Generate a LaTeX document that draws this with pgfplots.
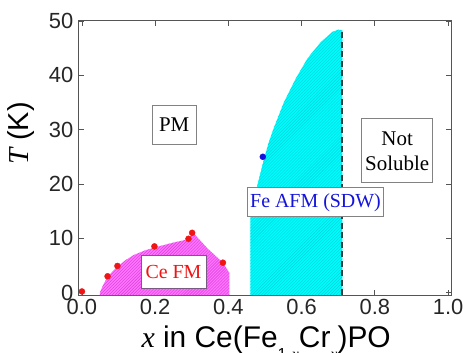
\documentclass[border=0pt]{standalone}
\usepackage{fontspec}
\setmainfont{Liberation Serif}
\setsansfont{Liberation Sans}
\usepackage{pgfplots}
\pgfplotsset{compat=1.18}
\usetikzlibrary{patterns}
\definecolor{magfill}{RGB}{255,115,255}
\definecolor{magline}{RGB}{215,60,215}
\definecolor{cyfill}{RGB}{0,252,252}
\definecolor{cyline}{RGB}{0,210,220}
\definecolor{frame}{RGB}{85,85,85}
\definecolor{boxgray}{RGB}{130,130,130}
\definecolor{boxpurple}{RGB}{120,90,130}
\definecolor{ptred}{RGB}{240,20,20}
\definecolor{ptblue}{RGB}{20,20,220}
\begin{document}
\begin{tikzpicture}
\begin{axis}[
  scale only axis,
  width=372bp, height=274bp,
  xmin=-0.008, xmax=1.008,
  ymin=-0.45, ymax=50,
  xtick={0,0.2,0.4,0.6,0.8,1.0},
  ytick={0,10,20,30,40,50},
  tick align=inside,
  tick pos=both,
  xticklabel pos=lower, yticklabel pos=left,
  major tick length=5bp,
  axis line style={frame, line width=1bp},
  every tick/.style={frame, line width=0.8bp},
  /pgf/number format/assume math mode=true,
  tick label style={font=\sffamily\fontsize{22}{22}\selectfont, text=black!85},
  xticklabel style={/pgf/number format/.cd, fixed, fixed zerofill, precision=1, /tikz/.cd, inner ysep=3.5bp},
  yticklabel style={inner xsep=5.5bp},
  every axis x label/.style={at={(axis description cs:0.1586,0)}, anchor=base west, yshift=-52.7bp, font=\sffamily\fontsize{30}{30}\selectfont},
  every axis y label/.style={at={(axis description cs:0,0.589)}, xshift=-58bp, rotate=90, anchor=center, font=\sffamily\fontsize{29}{29}\selectfont},
  xlabel={{\rmfamily\itshape x} in Ce(Fe\raisebox{-12bp}{\fontsize{16}{16}\selectfont 1-{\rmfamily\itshape x}}Cr\raisebox{-12bp}{\fontsize{16}{16}\selectfont {\rmfamily\itshape x}})PO},
  ylabel={{\rmfamily\itshape T} (K)},
  clip=false,
]
\coordinate (SW) at (rel axis cs:0,0);
\coordinate (NE) at (rel axis cs:1,1);
% Ce FM region
\addplot[draw=none, fill=magfill, postaction={pattern=north east lines, pattern color=magline}] coordinates {
(0.049,-0.45) (0.049,0) (0.058,1.4) (0.070,2.9) (0.085,4.0) (0.097,4.8) (0.12,6.0) (0.141,6.9) (0.17,7.7) (0.198,8.3) (0.25,9.2) (0.29,9.8) (0.304,11.0) (0.342,8.2) (0.385,5.5) (0.403,3.6) (0.403,-0.45)
} -- cycle;
% Fe AFM region
\addplot[draw=none, fill=cyfill, postaction={pattern=north east lines, pattern color=cyline}] coordinates {
(0.46,-0.45) (0.46,14.5) (0.47,17.5) (0.48,20) (0.495,24) (0.51,27.6) (0.524,30.3) (0.552,35.1) (0.584,39.4) (0.616,43.1) (0.652,46.1) (0.684,48.0) (0.70,48.4) (0.711,48.3) (0.711,-0.45)
} -- cycle;
% solubility limit
\addplot[frame!70!black, line width=1.6bp, dash pattern=on 6bp off 3.5bp] coordinates {(0.711,-0.45) (0.711,48.3)};
% data points
\addplot[only marks, mark=*, mark size=3bp, ptred, mark options={draw=ptred, fill=ptred}] coordinates {
(0,0.2) (0.07,3.0) (0.097,4.9) (0.198,8.5) (0.291,9.9) (0.301,11.0) (0.385,5.5)
};
\addplot[only marks, mark=*, mark size=3bp, ptblue, mark options={draw=ptblue, fill=ptblue}] coordinates {(0.494,25.0)};
% labels
\node[draw=boxgray, line width=0.8bp, fill=white, minimum width=44bp, minimum height=39bp, inner sep=0pt, font=\rmfamily\fontsize{21}{24}\selectfont] at (axis cs:0.252,30.9) {PM};
\node[draw=boxpurple, line width=0.8bp, fill=white, minimum width=65bp, minimum height=33bp, inner sep=0pt, text=ptred, font=\rmfamily\fontsize{20}{24}\selectfont] at (axis cs:0.25,3.75) {Ce FM};
\node[draw=boxgray, line width=0.8bp, fill=white, minimum width=136bp, minimum height=29bp, inner sep=0pt, text=ptblue, font=\rmfamily\fontsize{20}{24}\selectfont] at (axis cs:0.638,16.6) {Fe AFM (SDW)};
\node[draw=boxgray, line width=0.8bp, fill=white, minimum width=71bp, minimum height=64bp, inner sep=0pt, align=center, font=\rmfamily\fontsize{21}{25}\selectfont] at (axis cs:0.861,26.1) {Not\\Soluble};
\end{axis}
\pgfresetboundingbox
\path ([shift={(-79bp,-58bp)}]SW) rectangle ([shift={(12bp,21bp)}]NE);
\end{tikzpicture}
\end{document}
